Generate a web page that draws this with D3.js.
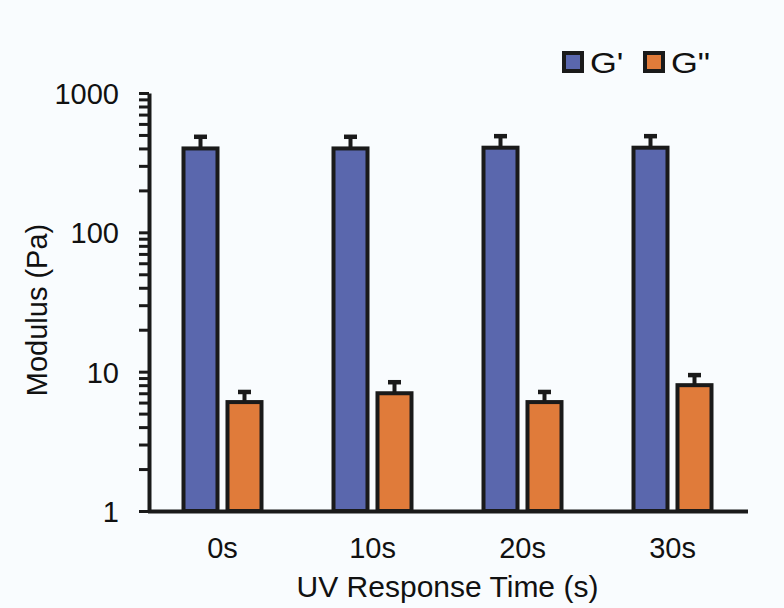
<!DOCTYPE html>
<html>
<head>
<meta charset="utf-8">
<title>Modulus</title>
<script src="https://cdn.jsdelivr.net/npm/d3@7"></script>
<style>
  body { margin: 0; background: #f9fcfe; }
  svg text { font-family: "Liberation Sans", Arial, sans-serif; fill: #111; }
</style>
</head>
<body>
<script>
// data
var times = ["0s", "10s", "20s", "30s"];
var series = ["G'", "G\""];
var gPrime = [400, 400, 405, 405];
var gPrimeErr = [85, 85, 85, 85];
var gDouble = [6.05, 7.0, 6.05, 8.0];
var gDoubleErr = [1.1, 1.4, 1.1, 1.45];
var colors = ["#5a67ad", "#e07b3a"];
var majorTicks = [1, 10, 100, 1000];

var svg = d3.select("body").append("svg")
    .attr("width", 784)
    .attr("height", 608);

var y = d3.scaleLog().domain([1, 1000]).range([511, 93]);

var x0 = d3.scaleBand().domain(times).range([147.5, 747.5])
    .paddingInner(0.48).paddingOuter(0.24);
var x1 = d3.scaleBand().domain(series).range([0, x0.bandwidth()])
    .paddingInner(0.227);

var rows = times.map(function(t, i) {
  return [
    {t: t, s: series[0], v: gPrime[i], e: gPrimeErr[i], c: colors[0]},
    {t: t, s: series[1], v: gDouble[i], e: gDoubleErr[i], c: colors[1]}
  ];
});

// minor + major tick values
var yTicks = [];
for (var p = 0; p < 3; p++) {
  for (var k = 1; k < 10; k++) yTicks.push(k * Math.pow(10, p));
}
yTicks.push(1000);

var groups = svg.append("g").selectAll("g")
  .data(rows).enter().append("g")
  .attr("transform", function(d) { return "translate(" + x0(d[0].t) + ",0)"; });

// error bars (upper only)
groups.selectAll("line.stem").data(function(d) { return d; }).enter()
  .append("line").attr("class", "stem")
  .attr("x1", function(d) { return x1(d.s) + x1.bandwidth() / 2; })
  .attr("x2", function(d) { return x1(d.s) + x1.bandwidth() / 2; })
  .attr("y1", function(d) { return y(d.v); })
  .attr("y2", function(d) { return y(d.v + d.e); })
  .attr("stroke", "#1a1a1a").attr("stroke-width", 4);

groups.selectAll("line.cap").data(function(d) { return d; }).enter()
  .append("line").attr("class", "cap")
  .attr("x1", function(d) { return x1(d.s) + x1.bandwidth() / 2 - 6.5; })
  .attr("x2", function(d) { return x1(d.s) + x1.bandwidth() / 2 + 6.5; })
  .attr("y1", function(d) { return y(d.v + d.e); })
  .attr("y2", function(d) { return y(d.v + d.e); })
  .attr("stroke", "#1a1a1a").attr("stroke-width", 4.5);

groups.selectAll("rect").data(function(d) { return d; }).enter()
  .append("rect")
  .attr("x", function(d) { return x1(d.s); })
  .attr("width", x1.bandwidth())
  .attr("y", function(d) { return y(d.v); })
  .attr("height", function(d) { return y(1) - y(d.v); })
  .attr("fill", function(d) { return d.c; })
  .attr("stroke", "#1a1a1a")
  .attr("stroke-width", 4);

// y axis
var yAxis = d3.axisLeft(y)
  .tickValues(yTicks)
  .tickSize(10)
  .tickSizeOuter(0)
  .tickPadding(20)
  .tickFormat(function(d) { return majorTicks.indexOf(d) >= 0 ? d : ""; });

var gy = svg.append("g").attr("transform", "translate(149,0)").call(yAxis);
gy.select(".domain").attr("stroke", "#1a1a1a").attr("stroke-width", 4);
gy.selectAll(".tick line").attr("stroke", "#1a1a1a").attr("stroke-width", 3);
gy.selectAll(".tick text")
  .style("font-family", "'Liberation Sans', Arial, sans-serif")
  .style("font-size", "29px").attr("fill", "#111").attr("dy", "0.36em");

// x axis
var gx = svg.append("g").attr("transform", "translate(0,511)")
  .call(d3.axisBottom(x0).tickSize(0).tickPadding(26).tickSizeOuter(0));
gx.select(".domain").attr("stroke", "#1a1a1a").attr("stroke-width", 4);
gx.selectAll(".tick text")
  .style("font-family", "'Liberation Sans', Arial, sans-serif")
  .style("font-size", "29px").attr("fill", "#111");

// titles
svg.append("text")
  .attr("x", 447.5).attr("y", 597)
  .attr("text-anchor", "middle")
  .style("font-size", "30px")
  .text("UV Response Time (s)");

svg.append("text")
  .attr("transform", "translate(47,310) rotate(-90)")
  .attr("text-anchor", "middle")
  .style("font-size", "29px")
  .text("Modulus (Pa)");

// legend
var legendX = [564, 645];
var leg = svg.append("g").selectAll("g")
  .data(series).enter().append("g")
  .attr("transform", function(d, i) { return "translate(" + legendX[i] + ",53)"; });
leg.append("rect")
  .attr("width", 18).attr("height", 18)
  .attr("fill", function(d, i) { return colors[i]; })
  .attr("stroke", "#1a1a1a").attr("stroke-width", 4);
leg.append("text")
  .attr("transform", "translate(26,20) scale(1.15,1)")
  .style("font-size", "30px")
  .text(function(d) { return d; });
</script>
</body>
</html>
